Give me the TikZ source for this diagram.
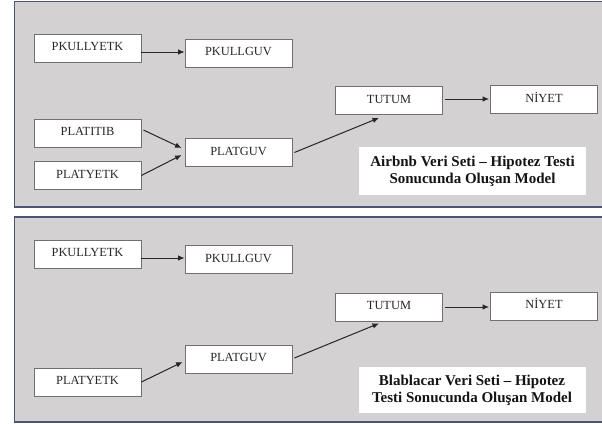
\documentclass[tikz,border=0pt]{standalone}
\usepackage{fontspec}
\setmainfont{Liberation Serif}
\usetikzlibrary{arrows.meta,calc}
\definecolor{panelbg}{HTML}{D3D1D2}
\definecolor{panelframe}{HTML}{4B5572}
\definecolor{boxframe}{HTML}{707070}
\definecolor{labeltext}{HTML}{262626}
\tikzset{
  panel/.style={fill=panelbg,draw=panelframe,line width=1.6pt},
  varbox/.style={draw=boxframe,fill=white,line width=0.8pt,inner sep=0pt,
    minimum width=107pt,minimum height=28pt,text=labeltext,
    text height=8.2pt,text depth=3pt,
    font=\fontsize{12.4}{14}\selectfont},
  capbox/.style={fill=white,inner sep=0pt,minimum width=227pt,text=black!92,
    align=center,font=\fontsize{15}{17}\selectfont\bfseries},
  arr/.style={-{Latex[length=6.5pt,width=5.5pt]},line width=1pt,draw=black!85}
}
\begin{document}
\begin{tikzpicture}[x=1pt,y=-1pt]
\useasboundingbox (0,0) rectangle (602,423);
\clip (0,0) rectangle (602,423);
\fill[white] (0,0) rectangle (602,423);
% panels
\draw[panel] (14.5,1.5) rectangle (610,207);
\draw[panel] (14.5,217) rectangle (610,421.8);

% ---------- panel 1 ----------
\node[varbox] (pky1) at (87.5,48) {PKULLYETK};
\node[varbox] (pkg1) at (238.5,53) {PKULLGUV};
\node[varbox] (pti1) at (87.5,133) {PLATITIB};
\node[varbox] (pye1) at (87.5,175.5) {PLATYETK};
\node[varbox] (pgu1) at (238.5,152.5) {PLATGUV};
\node[varbox] (tut1) at (389,100.5) {TUTUM};
\node[varbox] (niy1) at (544,99.5) {NİYET};
\node[capbox,minimum height=48pt] (cap1) at (472.5,171) {Airbnb Veri Seti – Hipotez Testi\\Sonucunda Oluşan Model};

\draw[arr] ([yshift=-4pt]pky1.east) -- ([yshift=-4pt]pky1.east -| pkg1.west);
\draw[arr] ([xshift=2pt,yshift=3pt]pti1.east) -- ([xshift=-3pt,yshift=4.5pt]pgu1.west);
\draw[arr] (pye1.east) -- ([xshift=-3pt,yshift=-2.5pt]pgu1.west);
\draw[arr] ([xshift=2pt]pgu1.east) -- ([xshift=-10pt,yshift=-3pt]tut1.south);
\draw[arr] ([xshift=2pt,yshift=1.5pt]tut1.east) -- ([xshift=-1pt,yshift=0.5pt]niy1.west);

% ---------- panel 2 ----------
\node[varbox] (pky2) at (87.5,254) {PKULLYETK};
\node[varbox] (pkg2) at (238.5,259.5) {PKULLGUV};
\node[varbox] (pgu2) at (238.5,359) {PLATGUV};
\node[varbox] (pye2) at (87.5,382) {PLATYETK};
\node[varbox] (tut2) at (389,307) {TUTUM};
\node[varbox] (niy2) at (544,306) {NİYET};
\node[capbox,minimum height=46pt] (cap2) at (472,390) {Blablacar Veri Seti – Hipotez\\Testi Sonucunda Oluşan Model};

\draw[arr] ([yshift=-4pt]pky2.east) -- ([yshift=-4pt]pky2.east -| pkg2.west);
\draw[arr] (pye2.east) -- ([xshift=-2pt,yshift=-3pt]pgu2.west);
\draw[arr] ([xshift=2pt,yshift=1pt]pgu2.east) -- ([xshift=-10pt,yshift=-2pt]tut2.south);
\draw[arr] ([xshift=2pt]tut2.east) -- ([xshift=-1pt,yshift=-1pt]niy2.west);
\end{tikzpicture}
\end{document}
